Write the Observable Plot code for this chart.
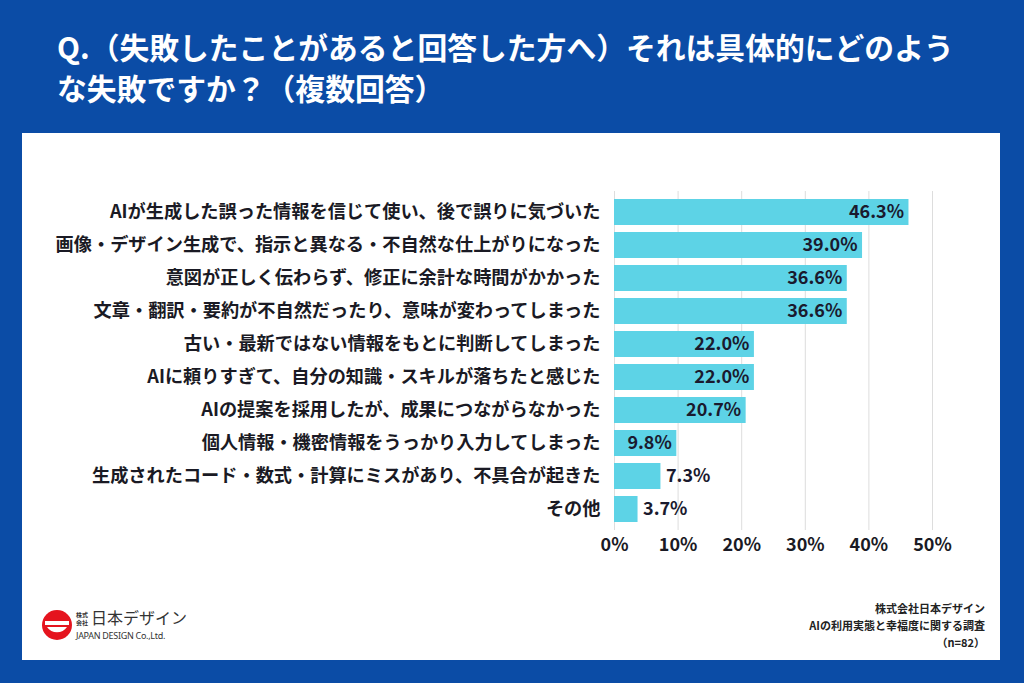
<!DOCTYPE html>
<html><head><meta charset="utf-8">
<script src="https://cdn.jsdelivr.net/npm/d3@7"></script>
<script src="https://cdn.jsdelivr.net/npm/@observablehq/plot@0.6"></script>
<style>
html,body{margin:0;padding:0;}
body{width:1024px;height:683px;background:#0b4ca6;position:relative;overflow:hidden;font-family:"Noto Sans CJK JP","Noto Sans",sans-serif;}
#title{position:absolute;left:57px;top:26px;width:960px;color:#fff;font-weight:700;font-size:29.8px;line-height:41px;white-space:nowrap;}
#panel{position:absolute;left:22px;top:133px;width:978px;height:527px;background:#fff;}
#chart{position:absolute;left:22px;top:180px;}
#src{position:absolute;right:39px;top:600px;text-align:right;font-size:11px;font-weight:700;line-height:17px;color:#222;}
#logo{position:absolute;left:38px;top:603px;}
</style></head>
<body>
<div id="title">Q.（失敗したことがあると回答した方へ）それは具体的にどのよう<br>な失敗ですか？（複数回答）</div>
<div id="panel"></div>
<div id="chart"></div>
<div id="logo">
<svg width="150" height="44" xmlns="http://www.w3.org/2000/svg">
<circle cx="19" cy="22" r="15" fill="#e5141e"/>
<rect x="7" y="18" width="24" height="4" fill="#fff"/>
<path d="M9 24 L29 24 A 12 12 0 0 1 9 24 Z" fill="#fff"/>
<text x="38" y="13.5" font-size="6" font-weight="700" fill="#333" font-family="Noto Sans CJK JP">株式</text>
<text x="38" y="21.5" font-size="6" font-weight="700" fill="#333" font-family="Noto Sans CJK JP">会社</text>
<text x="53" y="21" font-size="16" fill="#333" font-family="Noto Sans CJK JP">日本デザイン</text>
<text x="38" y="36" font-size="9" fill="#333" font-family="Noto Sans" letter-spacing="-0.3">JAPAN DESIGN Co.,Ltd.</text>
</svg>
</div>
<div id="src">株式会社日本デザイン<br>AIの利用実態と幸福度に関する調査<br>（n=82）</div>
<script>
const categories = [
  "AIが生成した誤った情報を信じて使い、後で誤りに気づいた",
  "画像・デザイン生成で、指示と異なる・不自然な仕上がりになった",
  "意図が正しく伝わらず、修正に余計な時間がかかった",
  "文章・翻訳・要約が不自然だったり、意味が変わってしまった",
  "古い・最新ではない情報をもとに判断してしまった",
  "AIに頼りすぎて、自分の知識・スキルが落ちたと感じた",
  "AIの提案を採用したが、成果につながらなかった",
  "個人情報・機密情報をうっかり入力してしまった",
  "生成されたコード・数式・計算にミスがあり、不具合が起きた",
  "その他"
];
const values = [46.3, 39.0, 36.6, 36.6, 22.0, 22.0, 20.7, 9.8, 7.3, 3.7];
const xTicks = [0, 10, 20, 30, 40, 50];

const data = categories.map((c, i) => ({cat: c, v: values[i]}));
const inside = data.filter(d => d.v >= 9);
const outside = data.filter(d => d.v < 9);

const chart = Plot.plot({
  width: 960,
  height: 392,
  marginLeft: 592,
  marginRight: 50,
  marginTop: 11,
  marginBottom: 42,
  style: {fontFamily: "'Noto Sans CJK JP','Noto Sans',sans-serif", background: "transparent", color: "#1a1a24"},
  x: {domain: [0, 50], ticks: xTicks, tickFormat: d => d + "%"},
  y: {domain: categories, padding: 0.2},
  marks: [
    Plot.gridX(xTicks, {stroke: "#dddddd", strokeOpacity: 1, strokeWidth: 1}),
    Plot.barX(data, {x: "v", y: "cat", fill: "#5dd3e6"}),
    Plot.text(inside, {x: "v", y: "cat", text: d => d.v.toFixed(1) + "%", textAnchor: "end", dx: -5, fontSize: 18, fontWeight: 700, fill: "#1a1a2e"}),
    Plot.text(outside, {x: "v", y: "cat", text: d => d.v.toFixed(1) + "%", textAnchor: "start", dx: 5, fontSize: 18, fontWeight: 700, fill: "#1a1a2e"}),
    Plot.axisY({tickSize: 0, tickPadding: 14, fontSize: 18.2, fontWeight: 700, label: null}),
    Plot.axisX(xTicks, {tickSize: 0, tickPadding: 8, fontSize: 18, fontWeight: 700, label: null, tickFormat: d => d + "%"})
  ]
});
document.getElementById("chart").appendChild(chart);
</script>
</body></html>
